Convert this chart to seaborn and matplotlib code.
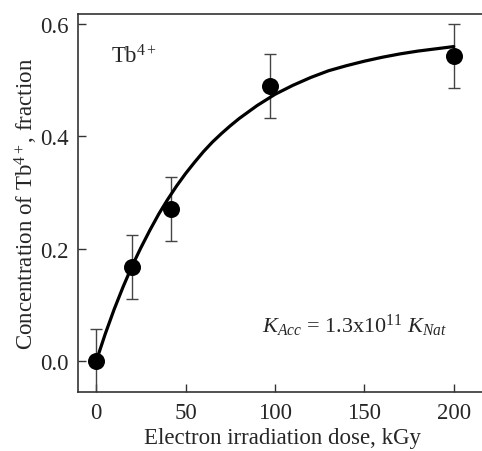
import matplotlib
matplotlib.use("Agg")
import matplotlib.pyplot as plt
import seaborn as sns
import pandas as pd

# measured points
dose = [0, 20, 42, 97, 200]
conc = [0.0, 0.168, 0.271, 0.490, 0.544]
err = [0.058, 0.057, 0.057, 0.057, 0.057]

# fitted curve
curve_x = [0, 5, 10, 15, 20, 25, 30, 35, 40, 45, 50, 55, 60, 65, 70, 75, 80, 90,
           100, 110, 120, 130, 140, 150, 160, 170, 180, 190, 200]
curve_y = [0.0, 0.048, 0.092, 0.132, 0.169, 0.202, 0.233, 0.262, 0.288, 0.312,
           0.334, 0.354, 0.373, 0.390, 0.405, 0.419, 0.432, 0.455,
           0.475, 0.491, 0.505, 0.517, 0.526, 0.534, 0.541, 0.547, 0.552, 0.556,
           0.560]

xticks = [0, 50, 100, 150, 200]
yticks = [0.0, 0.2, 0.4, 0.6]

sns.set_theme(style="ticks")
plt.rcParams['font.family'] = ['Liberation Serif', 'DejaVu Serif']
plt.rcParams['mathtext.fontset'] = 'custom'
plt.rcParams['mathtext.rm'] = 'Liberation Serif'
plt.rcParams['mathtext.it'] = 'Liberation Serif:italic'

fs = 16.5
fig = plt.figure(figsize=(4.82, 4.52), dpi=100)
ax = fig.add_axes([78 / 482, (452 - 393) / 452, 1.0 - 78 / 482 + 0.01, (393 - 15) / 452])

pts = pd.DataFrame({"dose": dose, "conc": conc})
cur = pd.DataFrame({"x": curve_x, "y": curve_y})

ax.errorbar(dose, conc, yerr=err, fmt="none", ecolor="#444444", elinewidth=1.0,
            capsize=4, capthick=1.0, zorder=2)
sns.lineplot(data=cur, x="x", y="y", ax=ax, color="black", linewidth=2.3, zorder=3)
sns.scatterplot(data=pts, x="dose", y="conc", ax=ax, color="black", s=150,
                edgecolor="black", linewidth=0, zorder=4)

ax.set_xlim(-10.2, 218.5)
ax.set_ylim(-0.055, 0.618)
ax.set_xticks(xticks)
ax.set_xticklabels([str(t) for t in xticks])
ax.set_yticks(yticks)
ax.set_yticklabels([f"{t:.1f}" for t in yticks])
ax.tick_params(direction="in", length=6, width=1, labelsize=fs, color="#333333",
               pad=7)
for s in ax.spines.values():
    s.set_linewidth(1.2)
    s.set_color("#333333")
ax.spines["right"].set_visible(False)

ax.set_xlabel("Electron irradiation dose, kGy", fontsize=fs, labelpad=3)
ax.set_ylabel("Concentration of Tb$^{4+}$, fraction", fontsize=fs, labelpad=0)

ax.text(8, 0.532, "Tb$^{4+}$", fontsize=fs)
ax.text(92.5, 0.053, "$K_{Acc}$ = 1.3x10$^{11}$ $K_{Nat}$", fontsize=16)

fig.savefig("out.png", dpi=100)
